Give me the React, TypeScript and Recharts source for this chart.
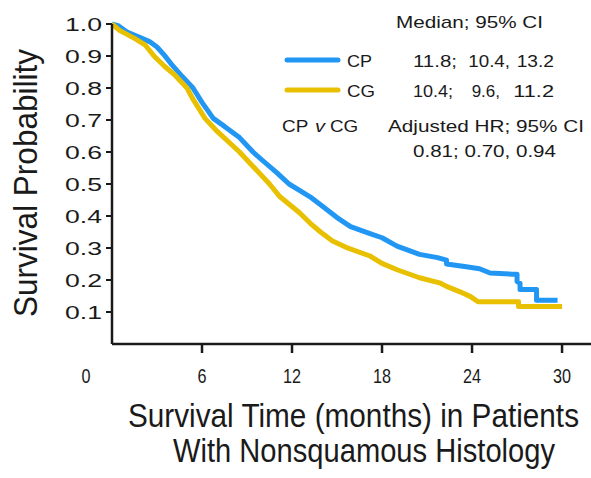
import React from "react";
import { LineChart, Line, XAxis, YAxis } from "recharts";

// ---- data ----
const cpTime = [0, 0.4, 1, 2, 2.5, 3, 3.5, 4, 4.7, 5.4, 6, 6.75, 7.5, 8.5, 9.4, 10, 11, 11.8, 12.5, 13.2, 13.9, 15, 15.9, 17.2, 18, 19, 20.5, 21.7, 22.3, 22.3, 23.5, 24.5, 25.2, 26.7, 27.0, 27.0, 27.2, 27.2, 28.3, 28.3, 29.7];
const cpSurv = [1.0, 0.995, 0.975, 0.955, 0.945, 0.928, 0.902, 0.872, 0.835, 0.8, 0.755, 0.705, 0.68, 0.645, 0.6, 0.575, 0.535, 0.5, 0.48, 0.46, 0.435, 0.395, 0.367, 0.345, 0.332, 0.306, 0.28, 0.27, 0.262, 0.25, 0.242, 0.235, 0.222, 0.218, 0.218, 0.195, 0.19, 0.17, 0.17, 0.137, 0.137];

const cgTime = [0, 0.5, 1.5, 2.2, 2.8, 3.5, 4.2, 5.0, 5.4, 6.2, 7.0, 8.5, 9.2, 10.5, 11.2, 12.5, 13.2, 13.9, 14.7, 15.6, 17.2, 18, 19, 20.5, 21.9, 22.3, 23.2, 23.9, 24.4, 27.1, 27.1, 30.0];
const cgSurv = [1.0, 0.98, 0.955, 0.935, 0.9, 0.868, 0.84, 0.8, 0.765, 0.705, 0.665, 0.6, 0.565, 0.5, 0.46, 0.41, 0.378, 0.35, 0.322, 0.302, 0.275, 0.252, 0.232, 0.207, 0.19, 0.18, 0.163, 0.148, 0.132, 0.132, 0.117, 0.117];

const xTicks = [0, 6, 12, 18, 24, 30];
const yTicks = [0.1, 0.2, 0.3, 0.4, 0.5, 0.6, 0.7, 0.8, 0.9, 1.0];

const seriesNames = ["CP", "CG"];
const medianRows = [
  ["11.8;", "10.4,", "13.2"],
  ["10.4;", "9.6,", "11.2"],
];
const hrText = "0.81; 0.70, 0.94";

const cpData = cpTime.map((t, i) => ({ t, s: cpSurv[i] }));
const cgData = cgTime.map((t, i) => ({ t, s: cgSurv[i] }));

const BLUE = "#2196f3";
const YELLOW = "#e8c000";
const INK = "#1a1a1a";
const SANS = "'Liberation Sans', Arial, Helvetica, sans-serif";
const NARROW = "'Liberation Sans Narrow', 'Liberation Sans', Arial, sans-serif";

const XTick = (props: any) => {
  const { x, y, payload } = props;
  const v = payload.value;
  const label = String(v);
  return (
    <g>
      {v !== 0 && (
        <line x1={x} y1={y} x2={x} y2={y + 9} stroke={INK} strokeWidth={2.5} />
      )}
      <text
        x={v === 0 ? x - 26 : x}
        y={y + 38.5}
        textAnchor="middle"
        fontSize={21}
        fontFamily={NARROW}
        fill={INK}
        textLength={label.length * 9}
        lengthAdjust="spacingAndGlyphs"
      >
        {label}
      </text>
    </g>
  );
};

const YTick = (props: any) => {
  const { x, y, payload } = props;
  const label = Number(payload.value).toFixed(1);
  return (
    <text
      x={x - 1}
      y={y + 6.5}
      textAnchor="end"
      fontSize={17.5}
      fontFamily={SANS}
      fill={INK}
      textLength={37}
      lengthAdjust="spacingAndGlyphs"
    >
      {label}
    </text>
  );
};

const T = (p: any) => (
  <text
    x={p.x}
    y={p.y}
    fontSize={p.fs || 17}
    fontFamily={p.ff || SANS}
    fill={INK}
    fontStyle={p.italic ? "italic" : "normal"}
    textAnchor={p.anchor || "start"}
    textLength={p.w}
    lengthAdjust="spacingAndGlyphs"
    transform={p.transform}
  >
    {p.children}
  </text>
);

export default function App() {
  return (
    <div style={{ position: "absolute", left: 0, top: 0, width: 591, height: 478, background: "#fff" }}>
      <div style={{ position: "absolute", left: 0, top: 0 }}>
        <LineChart width={591} height={478} margin={{ top: 24, right: 0, bottom: 0, left: 0 }}>
          <XAxis
            dataKey="t"
            type="number"
            domain={[0, 31.93]}
            allowDataOverflow
            ticks={xTicks}
            interval={0}
            height={134}
            tickLine={false}
            tickSize={0}
            tickMargin={0}
            axisLine={{ stroke: INK, strokeWidth: 2.5 }}
            tick={XTick}
          />
          <YAxis
            dataKey="s"
            type="number"
            domain={[0, 1]}
            ticks={yTicks}
            interval={0}
            width={112}
            tickSize={6}
            tickMargin={3}
            tickLine={{ stroke: INK, strokeWidth: 2 }}
            axisLine={{ stroke: INK, strokeWidth: 2.5 }}
            tick={YTick}
          />
          <Line
            data={cpData}
            dataKey="s"
            type="linear"
            stroke={BLUE}
            strokeWidth={5}
            strokeLinejoin="round"
            dot={false}
            activeDot={false}
            isAnimationActive={false}
          />
          <Line
            data={cgData}
            dataKey="s"
            type="linear"
            stroke={YELLOW}
            strokeWidth={5}
            strokeLinejoin="round"
            dot={false}
            activeDot={false}
            isAnimationActive={false}
          />
        </LineChart>
      </div>
      <svg
        width={591}
        height={478}
        style={{ position: "absolute", left: 0, top: 0, pointerEvents: "none" }}
      >
        {/* y-axis title */}
        <T x={0} y={0} fs={31} ff={NARROW} w={268} anchor="middle" transform="translate(37,183) rotate(-90) scale(1,1.06)">
          Survival Probability
        </T>
        {/* x-axis title */}
        <T x={0} y={0} fs={29.5} ff={NARROW} w={451} transform="translate(128,427) scale(1,1.12)">
          Survival Time (months) in Patients
        </T>
        <T x={0} y={0} fs={29.5} ff={NARROW} w={382} transform="translate(173,462) scale(1,1.12)">
          With Nonsquamous Histology
        </T>

        {/* legend / annotations */}
        <T x={396} y={28} w={147}>Median; 95% CI</T>
        <line x1={287} y1={60} x2={338} y2={60} stroke={BLUE} strokeWidth={5} strokeLinecap="round" />
        <line x1={287} y1={90} x2={338} y2={90} stroke={YELLOW} strokeWidth={5} strokeLinecap="round" />
        <T x={347} y={67} w={25}>{seriesNames[0]}</T>
        <T x={347} y={97} w={28}>{seriesNames[1]}</T>
        <T x={413} y={67} w={44}>{medianRows[0][0]}</T>
        <T x={468.3} y={67} w={41.7}>{medianRows[0][1]}</T>
        <T x={516.7} y={67} w={37.3}>{medianRows[0][2]}</T>
        <T x={413} y={97} w={40}>{medianRows[1][0]}</T>
        <T x={471.7} y={97} w={28.3}>{medianRows[1][1]}</T>
        <T x={513.3} y={97} w={40.7}>{medianRows[1][2]}</T>

        <T x={282} y={132} w={26.3}>{seriesNames[0]}</T>
        <T x={315} y={132} w={10} italic>v</T>
        <T x={330} y={132} w={28.3}>{seriesNames[1]}</T>
        <T x={388} y={132} w={196}>Adjusted HR; 95% CI</T>
        <T x={413} y={157} w={143}>{hrText}</T>
      </svg>
    </div>
  );
}
